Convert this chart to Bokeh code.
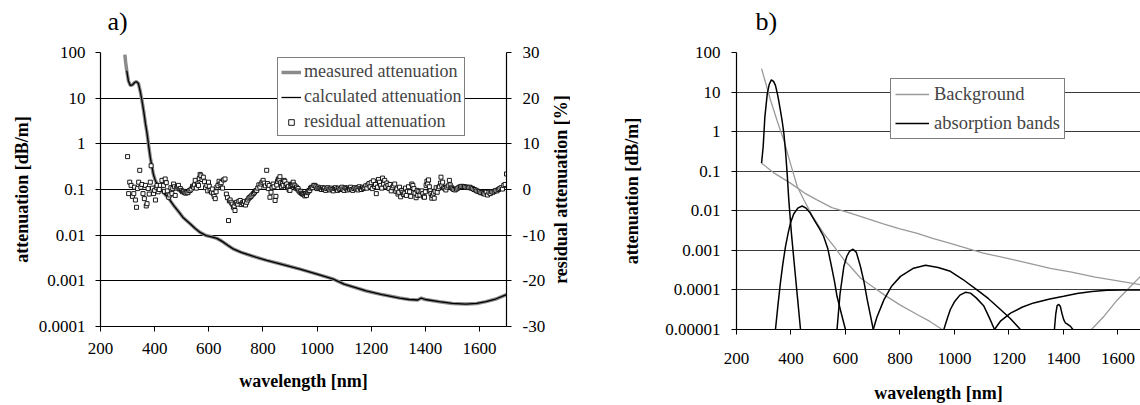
import math
from bokeh.plotting import figure
from bokeh.models import (Range1d, LinearAxis, LinearScale, FixedTicker, CustomJSTickFormatter,
                          Legend, LegendItem, Title)
from bokeh.layouts import row, column
from bokeh.embed import file_html
from bokeh.resources import INLINE

SERIF = "Liberation Serif"

# ---------------- data: panel a ----------------
x_ticks = [200, 400, 600, 800, 1000, 1200, 1400, 1600]
y_ticks_a = [1e-4, 1e-3, 1e-2, 1e-1, 1, 10, 100]
res_ticks = [-30, -20, -10, 0, 10, 20, 30]

meas_wl = [290, 293, 297, 303, 310, 318, 326, 333, 340, 347, 353, 360, 366, 372, 378, 384, 390,
           395, 402, 410, 418, 430, 450, 470, 490, 506, 530, 550, 568, 590, 610, 630, 648, 670,
           690, 720, 760, 814, 870, 937, 1000, 1058, 1100, 1182, 1240, 1305, 1340, 1372, 1385,
           1400, 1452, 1500, 1550, 1590, 1624, 1660, 1700]
meas_val = [90, 60, 40, 24, 19, 19.5, 22, 23, 21, 14, 9, 5, 2.8, 1.7, 0.9, 0.5, 0.32,
            0.22, 0.16, 0.13, 0.11, 0.088, 0.066, 0.045, 0.032, 0.024, 0.018, 0.014, 0.0115,
            0.0098, 0.0092, 0.0085, 0.0074, 0.006, 0.005, 0.0042, 0.0035, 0.0028, 0.0023,
            0.0018, 0.0014, 0.0011, 0.00085, 0.0006, 0.0005, 0.00042, 0.00039, 0.00038,
            0.00042, 0.00039, 0.00035, 0.00032, 0.00031, 0.00032, 0.00035, 0.0004, 0.0005]

calc_wl = [297, 303, 310, 318, 326, 333, 340, 347, 353, 360, 366, 372, 378, 384, 390,
           395, 402, 410, 418, 430, 450, 470, 490, 506, 530, 550, 568, 590, 610, 630, 648, 670,
           690, 720, 760, 814, 870, 937, 1000, 1058, 1100, 1182, 1240, 1305, 1340, 1372, 1385,
           1400, 1452, 1500, 1550, 1590, 1624, 1660, 1700]
calc_val = [40, 24, 19, 19.5, 22, 23, 21, 14, 9, 5, 2.8, 1.7, 0.9, 0.5, 0.32,
            0.22, 0.16, 0.13, 0.11, 0.088, 0.066, 0.045, 0.032, 0.024, 0.018, 0.014, 0.0115,
            0.0098, 0.0092, 0.0085, 0.0074, 0.006, 0.005, 0.0042, 0.0035, 0.0028, 0.0023,
            0.0018, 0.0014, 0.0011, 0.00085, 0.0006, 0.0005, 0.00042, 0.00039, 0.00038,
            0.00042, 0.00039, 0.00035, 0.00032, 0.00031, 0.00032, 0.00035, 0.0004, 0.0005]

res_wl = [300, 304, 308, 313, 318, 323, 326, 329, 333, 337,
          341, 345, 349, 353, 357, 362, 366, 369, 372, 376,
          380, 384, 387, 392, 396, 400, 403, 406, 409, 413,
          417, 421, 427, 433, 436, 439, 443, 447, 452, 456,
          460, 464, 467, 470, 473, 476, 480, 484, 488, 491,
          495, 499, 503, 507, 511, 515, 519, 523, 527, 531,
          535, 540, 544, 547, 550, 554, 558, 562, 565, 568,
          571, 575, 580, 584, 588, 593, 596, 599, 602, 605,
          610, 613, 617, 620, 624, 627, 630, 634, 638, 642,
          646, 651, 655, 660, 665, 669, 673, 676, 679, 683,
          687, 691, 694, 697, 700, 703, 707, 711, 716, 720,
          724, 728, 732, 736, 740, 744, 748, 752, 756, 760,
          765, 769, 773, 777, 781, 785, 789, 793, 797, 801,
          805, 809, 814, 817, 820, 823, 826, 830, 834, 838,
          841, 845, 848, 851, 854, 857, 860, 863, 866, 869,
          872, 875, 878, 881, 885, 888, 891, 894, 897, 900,
          903, 906, 909, 912, 915, 918, 921, 924, 927, 930,
          933, 937, 940, 943, 946, 949, 952, 955, 958, 961,
          964, 967, 970, 973, 976, 980, 984, 988, 992, 996,
          1000, 1004, 1008, 1012, 1016, 1020, 1024, 1028, 1032, 1036,
          1040, 1044, 1048, 1052, 1056, 1060, 1064, 1068, 1072, 1076,
          1080, 1084, 1088, 1092, 1096, 1100, 1104, 1108, 1112, 1116,
          1120, 1124, 1128, 1132, 1136, 1140, 1144, 1148, 1152, 1156,
          1160, 1164, 1168, 1172, 1176, 1180, 1184, 1188, 1192, 1196,
          1200, 1204, 1208, 1212, 1216, 1219, 1223, 1227, 1231, 1235,
          1239, 1242, 1246, 1250, 1254, 1258, 1262, 1266, 1270, 1274,
          1278, 1282, 1287, 1291, 1295, 1299, 1302, 1305, 1309, 1313,
          1317, 1320, 1324, 1327, 1330, 1334, 1338, 1342, 1346, 1350,
          1354, 1358, 1362, 1366, 1370, 1372, 1376, 1380, 1384, 1388,
          1391, 1394, 1397, 1400, 1403, 1406, 1409, 1412, 1415, 1418,
          1421, 1424, 1427, 1430, 1433, 1436, 1440, 1444, 1448, 1452,
          1456, 1458, 1461, 1464, 1468, 1472, 1476, 1480, 1485, 1489,
          1492, 1496, 1500, 1505, 1510, 1515, 1520, 1525, 1530, 1535,
          1540, 1545, 1550, 1555, 1560, 1565, 1570, 1575, 1580, 1585,
          1590, 1595, 1600, 1605, 1610, 1615, 1620, 1625, 1630, 1635,
          1640, 1645, 1650, 1655, 1660, 1665, 1670, 1675, 1680, 1685,
          1690, 1695, 1700]
res_val = [7.2, -0.9, 1.6, 0.9, -1.5, -0.9, 0.5, -2.3, -3.9, 0.2,
           1.6, 4.2, 0.5, 1.1, -0.9, -2.0, 0.9, -3.6, -3.1, 0.2,
           -1.0, 1.6, 5.2, 0.3, -0.9, -0.2, -2.3, 0.5, 0.9, -0.5,
           0.0, 0.9, 2.0, 0.9, -0.4, 2.3, 1.5, -0.3, -1.7, -1.2,
           0.4, -0.9, 0.2, 1.2, 0.6, -1.3, 0.3, 0.6, 0.9, 0.1,
           0.2, -0.2, -0.5, -0.4, -0.7, -0.8, -0.6, -0.7, -0.3, -0.2,
           0.1, 0.7, 0.5, 1.0, 2.0, 0.3, 1.2, 0.9, 2.4, 3.3,
           3.0, 2.2, 2.7, 1.7, 0.4, 0.9, -0.3, 1.6, 0.7, -0.2,
           -0.6, 0.1, -0.9, -1.5, -2.0, -0.5, 0.5, 0.9, 1.8, 1.2,
           1.5, 0.3, 2.1, 2.3, -1.0, -1.8, -6.8, -2.5, -2.3, -2.8,
           -3.2, -3.9, -3.6, -4.6, -3.0, -2.8, -3.2, -2.6, -2.4, -3.3,
           -2.9, -3.1, -2.6, -3.4, -2.8, -2.3, -1.9, -1.7, -1.5, -1.2,
           -0.9, -0.6, -0.3, -0.2, 0.3, 1.0, 0.5, 1.2, 1.6, 2.0,
           1.4, 0.8, 4.2, 1.3, 0.2, 0.9, -1.7, -0.6, 0.4, 1.2,
           0.6, -2.4, -1.5, 1.0, 1.8, 2.3, 2.1, 2.8, 1.5, 0.6,
           1.3, 0.9, 2.0, 1.8, 0.9, 1.2, 0.4, 0.7, -0.1, -0.2,
           0.9, 1.2, 1.1, 1.6, 1.0, 0.8, 0.3, 0.5, 0.1, 0.2,
           -0.3, -0.6, -0.4, -0.8, -1.0, -0.9, -1.1, -1.4, -1.0, -1.3,
           -0.7, -0.5, -0.2, -0.2, 0.3, 0.5, 0.4, 0.9, 0.9, 0.6,
           0.2, 0.5, 0.2, 0.3, 0.0, 0.4, 0.1, 0.3, -0.2, 0.2,
           0.4, 0.1, -0.1, 0.3, 0.0, -0.3, 0.2, 0.4, 0.1, -0.2,
           0.3, 0.0, 0.2, 0.5, 0.1, -0.2, 0.4, 0.2, -0.1, 0.3,
           0.1, 0.5, 0.0, -0.2, 0.2, 0.4, 0.1, 0.3, -0.1, 0.6,
           0.2, 0.0, 0.5, 0.2, 0.4, 0.8, 0.3, 1.0, 1.3, 0.6,
           1.5, 0.2, 1.9, 0.7, 1.1, -0.9, 0.5, 2.2, 1.6, 0.9,
           0.3, 2.5, 1.2, 2.0, 0.6, 1.4, 0.9, 0.2, 1.1, -0.3,
           0.4, 0.8, 1.2, -0.4, 0.1, -1.0, -0.6, 0.5, -1.6, -0.2,
           -0.6, -1.1, -0.8, 0.3, -1.3, -0.4, 0.6, -0.5, -1.5, 1.2,
           0.9, 0.2, -0.8, -1.8, -0.2, -1.3, -0.4, -1.2, -0.5, -0.3,
           -0.9, -1.6, -1.7, -0.5, 0.9, 1.8, 1.2, 2.1, 0.6, -0.3,
           -0.9, -1.9, -1.3, -0.8, -1.9, -0.4, 0.4, -0.6, 0.2, 0.6,
           1.4, 2.7, 0.9, 1.6, 0.4, 0.2, -0.1, 0.5, 0.8, 2.0,
           1.0, 0.5, 0.2, 0.0, -0.1, 0.1, 0.3, 0.5, 0.6, 0.7,
           0.6, 0.6, 0.5, 0.5, 0.4, 0.5, 0.3, 0.2, 0.0, -0.1,
           -0.3, -0.4, -0.5, -0.7, -0.7, -0.9, -1.0, -0.6, -1.2, -0.6,
           -0.9, -0.5, -0.6, -0.4, -0.2, -0.3, 0.0, 0.2, 0.4, 0.1,
           0.9, 1.1, 3.4]

# ---------------- data: panel b ----------------
y_ticks_b = [1e-5, 1e-4, 1e-3, 1e-2, 1e-1, 1, 10, 100]

ray_wl = [292, 340, 398, 450, 497, 550, 618, 680, 739, 800, 864, 920, 985, 1050, 1106,
          1170, 1231, 1290, 1352, 1430, 1517, 1600, 1683, 1700]
ray_val = [0.16, 0.088, 0.05, 0.028, 0.0186, 0.012, 0.0087, 0.0063, 0.0047, 0.0035, 0.0027,
           0.002, 0.0015, 0.0011, 0.00085, 0.00068, 0.00055, 0.00044, 0.00035, 0.00028,
           0.00021, 0.00017, 0.000135, 0.00013]

uv_wl = [292, 325, 350, 374, 400, 423, 447, 480, 520, 560, 594, 618, 655, 700, 741, 800,
         863, 910, 955]
uv_val = [39, 6.2, 1.8, 0.6, 0.14, 0.041, 0.019, 0.0071, 0.0027, 0.0012, 0.00058, 0.00039,
          0.0002, 0.00012, 7.6e-5, 4.2e-5, 2.4e-5, 1.6e-5, 1e-5]

ir_wl = [1503, 1550, 1597, 1640, 1683, 1700]
ir_val = [1e-5, 2.2e-5, 5.5e-5, 1.1e-4, 2.2e-4, 2.6e-4]

b1_wl = [292, 298, 304, 313, 320, 328, 336, 343, 352, 361, 368, 374, 380, 386, 392, 402, 413, 424, 435]
b1_val = [0.16, 0.42, 2.3, 9.1, 15.5, 20.4, 18.6, 14.8, 7.9, 3.5, 1.78, 0.89, 0.32, 0.087,
          0.0186, 2.5e-3, 3.9e-4, 6.3e-5, 1e-5]
b2_wl = [343, 352, 361, 370, 380, 390, 398, 410, 425, 441, 455, 470, 490, 505, 520, 535, 550,
         560, 569, 585, 600]
b2_val = [1e-5, 4e-5, 1.48e-4, 4.5e-4, 1.26e-3, 2.8e-3, 4.9e-3, 8.3e-3, 0.0117, 0.0132, 0.0117,
          8.9e-3, 5.2e-3, 3.5e-3, 2.24e-3, 1.12e-3, 3.55e-4, 1.6e-4, 6.9e-5, 2.5e-5, 1e-5]
b3_wl = [569, 580, 594, 605, 615, 628, 640, 655, 668, 680, 692, 702]
b3_val = [1e-5, 7.9e-5, 3.9e-4, 7.1e-4, 9.5e-4, 1.07e-3, 8.9e-4, 3.9e-4, 1.6e-4, 5.6e-5,
          2.2e-5, 1e-5]
b4_wl = [702, 715, 741, 770, 802, 850, 894, 940, 985, 1030, 1083, 1125, 1169, 1205, 1242]
b4_val = [1e-5, 2e-5, 5.6e-5, 1.26e-4, 2.2e-4, 3.55e-4, 4.2e-4, 3.7e-4, 2.95e-4, 1.86e-4,
          1e-4, 6e-5, 3.2e-5, 1.9e-5, 1e-5]
b5_wl = [961, 975, 985, 1000, 1020, 1040, 1059, 1080, 1108, 1128, 1147]
b5_val = [1e-5, 2e-5, 3.2e-5, 5e-5, 7.4e-5, 8.7e-5, 8.3e-5, 6.3e-5, 3.9e-5, 2e-5, 1e-5]
b6_wl = [1147, 1170, 1206, 1250, 1291, 1350, 1401, 1450, 1505, 1560, 1620, 1700]
b6_val = [1e-5, 1.66e-5, 2.6e-5, 3.7e-5, 4.7e-5, 5.9e-5, 6.9e-5, 8.1e-5, 9.1e-5, 9.8e-5,
          1e-4, 1e-4]
b7_wl = [1367, 1372, 1377, 1383, 1389, 1395, 1401, 1407, 1416, 1426, 1435]
b7_val = [1e-5, 2.5e-5, 4e-5, 4.3e-5, 3.8e-5, 2.5e-5, 1.78e-5, 1.48e-5, 1.35e-5, 1.2e-5, 1e-5]

# ---------------- helpers ----------------
log_fmt = CustomJSTickFormatter(code="""
if (tick >= 1) { return tick.toFixed(0); }
const d = Math.round(-Math.log10(tick));
return tick.toFixed(d);
""")
int_fmt = CustomJSTickFormatter(code="return tick.toFixed(0);")


def style_axis(ax, label_standoff=10, axis_standoff=8):
    ax.major_label_text_font = SERIF
    ax.major_label_text_font_size = "17px"
    ax.major_label_text_color = "black"
    ax.axis_label_text_font = SERIF
    ax.axis_label_text_font_size = "18px"
    ax.axis_label_text_font_style = "bold"
    ax.axis_label_text_color = "black"
    ax.axis_line_color = "black"
    ax.axis_line_width = 1.2
    ax.major_tick_line_color = "black"
    ax.major_tick_out = 5
    ax.major_tick_in = 0
    ax.minor_tick_line_color = None
    ax.major_label_standoff = label_standoff
    ax.axis_label_standoff = axis_standoff


def style_title(p, offset):
    p.title.text_font = SERIF
    p.title.text_font_size = "26px"
    p.title.text_font_style = "normal"
    p.title.align = "left"
    p.title.vertical_align = "top"
    p.title.offset = offset
    p.title.text_color = "black"
    p.title.text_line_height = 1.0
    try:
        p.title.standoff = 4
    except Exception:
        pass
    # thin spacer between the panel letter and the plot frame
    p.add_layout(Title(text=" ", text_font_size="10px", standoff=0), "above")


# ---------------- panel a ----------------
pa = figure(width=548, height=405, x_range=Range1d(200, 1700), y_range=Range1d(1e-4, 100),
            y_axis_type="log", output_backend="svg", toolbar_location=None, title="a)",
            min_border_left=100, min_border_right=40, min_border_top=52, min_border_bottom=79)
style_title(pa, 7)
pa.outline_line_color = None
pa.background_fill_color = "white"
pa.xgrid.visible = False
pa.ygrid.grid_line_color = "black"
pa.ygrid.grid_line_width = 1
pa.xaxis.ticker = FixedTicker(ticks=x_ticks, minor_ticks=[])
pa.yaxis.ticker = FixedTicker(ticks=y_ticks_a, minor_ticks=[])
pa.ygrid.ticker = FixedTicker(ticks=y_ticks_a, minor_ticks=[])
pa.yaxis.formatter = log_fmt
pa.xaxis.axis_label = "wavelength [nm]"
pa.yaxis.axis_label = "attenuation [dB/m]"
style_axis(pa.xaxis[0], label_standoff=11, axis_standoff=14)
style_axis(pa.yaxis[0], label_standoff=10, axis_standoff=4)

pa.extra_y_ranges = {"res": Range1d(-30, 30)}
pa.extra_y_scales = {"res": LinearScale()}
ax_r = LinearAxis(y_range_name="res", ticker=FixedTicker(ticks=res_ticks, minor_ticks=[]),
                  formatter=int_fmt)
style_axis(ax_r, label_standoff=11, axis_standoff=3)
pa.add_layout(ax_r, "right")

r_meas = pa.line(meas_wl, meas_val, line_color="#8a8a8a", line_width=3.5)
r_calc = pa.line(calc_wl, calc_val, line_color="black", line_width=1.3)
r_res = pa.scatter(res_wl, res_val, marker="square", size=4, fill_color="white",
                   line_color="black", line_width=0.9, y_range_name="res")

leg_a = Legend(items=[LegendItem(label="measured attenuation", renderers=[r_meas]),
                      LegendItem(label="calculated attenuation", renderers=[r_calc]),
                      LegendItem(label="residual attenuation", renderers=[r_res])],
               location=(177, 190))
leg_a.label_text_font = SERIF
leg_a.label_text_font_size = "18px"
leg_a.border_line_color = "black"
leg_a.border_line_width = 1
leg_a.background_fill_color = "white"
leg_a.background_fill_alpha = 1
leg_a.glyph_width = 20
leg_a.glyph_height = 14
leg_a.label_height = 20
leg_a.label_standoff = 3
leg_a.padding = 3
leg_a.spacing = 4
leg_a.margin = 0
pa.add_layout(leg_a)

# narrow strip carrying the secondary-axis title (reads bottom-to-top, centred on the frame)
pr = figure(width=22, height=405, output_backend="svg", toolbar_location=None,
            x_axis_location=None, y_axis_location=None,
            min_border_left=0, min_border_right=0, min_border_top=52, min_border_bottom=79)
pr.outline_line_color = None
pr.background_fill_color = None
pr.border_fill_color = None
pr.grid.visible = False
pr.add_layout(Title(text="residual attenuation [%]", align="center", text_font=SERIF,
                    text_font_size="18px", text_font_style="bold", text_color="black",
                    standoff=0), "left")

# ---------------- panel b ----------------
pb = figure(width=570, height=405, x_range=Range1d(200, 1683), y_range=Range1d(1e-5, 100),
            y_axis_type="log", output_backend="svg", toolbar_location=None, title="b)",
            min_border_left=166, min_border_right=0, min_border_top=52, min_border_bottom=75)
style_title(pb, 19)
pb.outline_line_color = None
pb.xgrid.visible = False
pb.ygrid.grid_line_color = "#3a3a3a"
pb.ygrid.grid_line_width = 1
pb.xaxis.ticker = FixedTicker(ticks=x_ticks, minor_ticks=[])
pb.yaxis.ticker = FixedTicker(ticks=y_ticks_b, minor_ticks=[])
pb.ygrid.ticker = FixedTicker(ticks=y_ticks_b, minor_ticks=[])
pb.yaxis.formatter = log_fmt
pb.xaxis.axis_label = "wavelength [nm]"
pb.yaxis.axis_label = "attenuation [dB/m]"
style_axis(pb.xaxis[0], label_standoff=18, axis_standoff=16)
style_axis(pb.yaxis[0], label_standoff=11, axis_standoff=20)

GRAY = "#9a9a9a"
r_bg = pb.line(ray_wl, ray_val, line_color=GRAY, line_width=1.3)
pb.line(uv_wl, uv_val, line_color=GRAY, line_width=1.3)
pb.line(ir_wl, ir_val, line_color=GRAY, line_width=1.3)
r_bands = pb.multi_line([b1_wl, b2_wl, b3_wl, b4_wl, b5_wl, b6_wl, b7_wl],
                        [b1_val, b2_val, b3_val, b4_val, b5_val, b6_val, b7_val],
                        line_color="black", line_width=1.5)

leg_b = Legend(items=[LegendItem(label="Background", renderers=[r_bg]),
                      LegendItem(label="absorption bands", renderers=[r_bands])],
               location=(154, 190))
leg_b.label_text_font = SERIF
leg_b.label_text_font_size = "18.5px"
leg_b.border_line_color = "black"
leg_b.border_line_width = 1
leg_b.background_fill_color = "white"
leg_b.background_fill_alpha = 1
leg_b.glyph_width = 34
leg_b.glyph_height = 14
leg_b.label_height = 22
leg_b.label_standoff = 5
leg_b.padding = 4
leg_b.spacing = 7
leg_b.margin = 0
pb.add_layout(leg_b)

layout = row(column(pa), column(pr), column(pb))
open("out.html", "w").write(file_html(layout, INLINE))
